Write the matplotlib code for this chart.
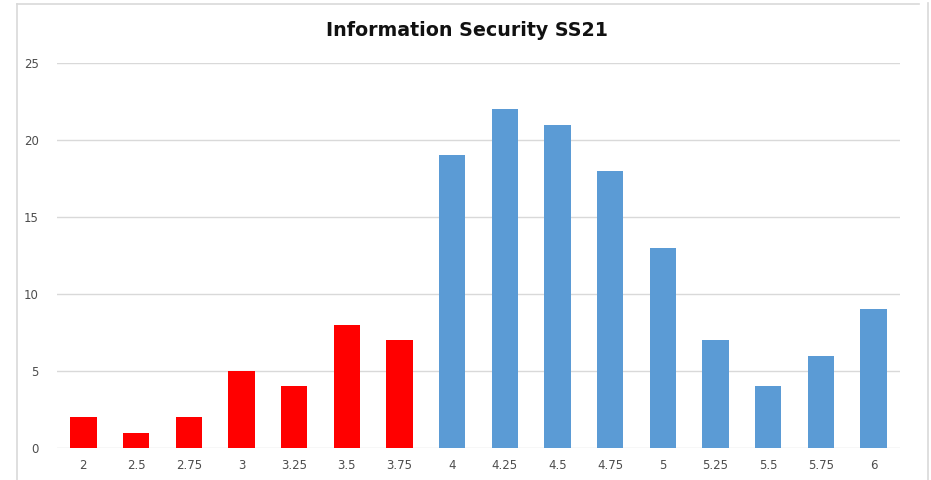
import matplotlib
matplotlib.use("Agg")
import matplotlib.pyplot as plt
from matplotlib.lines import Line2D

categories = ["2", "2.5", "2.75", "3", "3.25", "3.5", "3.75", "4", "4.25", "4.5",
              "4.75", "5", "5.25", "5.5", "5.75", "6"]
values = [2, 1, 2, 5, 4, 8, 7, 19, 22, 21, 18, 13, 7, 4, 6, 9]
fail_count = 7  # first seven grades in red
yticks = [0, 5, 10, 15, 20, 25]
title = "Information Security SS21"

plt.rcParams['font.family'] = ['DejaVu Sans']

fig = plt.figure(figsize=(9.31, 4.8), dpi=100)
ax = fig.add_axes([57/931, 1-448/480, (900-57)/931, (448-63)/480])

colors = ["#FF0000" if i < fail_count else "#5B9BD5" for i in range(len(values))]
x = list(range(len(categories)))
ax.bar(x, values, width=0.5, color=colors, zorder=3)

ax.set_xlim(-0.5, len(categories) - 0.5)
ax.set_ylim(0, 25)
ax.set_yticks(yticks)
ax.set_xticks(x)
ax.set_xticklabels(categories)
ax.tick_params(axis='both', length=0, labelsize=8.5, labelcolor="#4D4D4D")
ax.tick_params(axis='x', pad=8)
ax.tick_params(axis='y', pad=13)
ax.grid(axis='y', color="#D9D9D9", linewidth=1, zorder=0)
for s in ax.spines.values():
    s.set_visible(False)

fig.text(467/931, 1 - 30/480, title, ha='center', va='center',
         fontsize=13.7, fontweight='bold', color="#111111")

# chart border
W, H = 931, 480
fig.add_artist(Line2D([17/W, 919/W], [1-4/H, 1-4/H], color="#D9D9D9", lw=1.2, transform=fig.transFigure))
fig.add_artist(Line2D([17/W, 17/W], [1-4/H, 0], color="#D9D9D9", lw=1.2, transform=fig.transFigure))
fig.add_artist(Line2D([928/W, 928/W], [1-3/H, 0], color="#D9D9D9", lw=1.2, transform=fig.transFigure))

fig.savefig("out.png", dpi=100)
